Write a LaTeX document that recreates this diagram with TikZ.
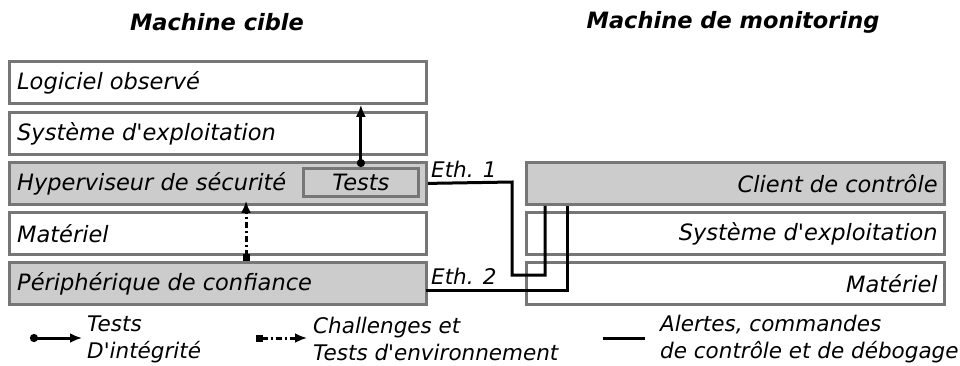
\documentclass[tikz,border=0pt]{standalone}
\usepackage{fontspec}
\newfontfamily\dvs{DejaVu Sans}
\usetikzlibrary{arrows.meta,calc}
\definecolor{boxgray}{RGB}{118,118,118}
\definecolor{fillgray}{RGB}{204,204,204}
\tikzset{
  box/.style={draw=boxgray, line width=2.8pt, anchor=north west, minimum width=417pt, minimum height=42pt, inner sep=0pt},
  shaded/.style={fill=fillgray},
  lbl/.style={font=\fontsize{22.5}{27}\selectfont\dvs\itshape, inner sep=0pt},
  leg/.style={font=\fontsize{21.5}{27}\selectfont\dvs\itshape, inner sep=0pt, align=left, anchor=west},
  ttl/.style={font=\fontsize{22.5}{27}\selectfont\dvs\bfseries\itshape, inner sep=0pt},
  link/.style={line width=3pt, black},
  testarrow/.style={line width=3pt, {Circle[length=8pt,width=8pt]}-{Latex[length=12pt,width=10pt]}},
  chalarrow/.style={line width=3pt, dash pattern=on 6pt off 3pt on 2pt off 3pt, {Square[length=7pt,width=7pt]}-{Latex[length=12pt,width=10pt]}},
}
\begin{document}
\begin{tikzpicture}[x=1pt,y=-1pt]
\useasboundingbox (0,0) rectangle (960,365);
% titles
\node[ttl] (t1) at (217,22) {Machine cible};
\node[ttl] (t2) at (733,22) {Machine de monitoring};
% left stack
\node[box] (lo) at (8,60) {};
\node[box] (so) at (8,111) {};
\node[box,shaded] (hy) at (8,161) {};
\node[box] (ma) at (8,211) {};
\node[box,shaded] (pc) at (8,261) {};
\node[lbl,anchor=west] (lot) at ($(lo.west)+(9,0)$) {Logiciel observé};
\node[lbl,anchor=west] (sot) at ($(so.west)+(9,0)$) {Système d'exploitation};
\node[lbl,anchor=west] (hyt) at ($(hy.west)+(9,0)$) {Hyperviseur de sécurité};
\node[lbl,anchor=west] (mat) at ($(ma.west)+(9,0)$) {Matériel};
\node[lbl,anchor=west] (pct) at ($(pc.west)+(9,0)$) {Périphérique de confiance};
\node[draw=boxgray, line width=2.8pt, fill=fillgray, minimum width=115pt, minimum height=28pt, inner sep=0pt, anchor=north west] (te) at (302,167) {};
\node[lbl] (tet) at (te.center) {Tests};
% right stack
\node[box,shaded,minimum width=418pt] (cc) at (525,161) {};
\node[box,minimum width=418pt] (rs) at (525,211) {};
\node[box,minimum width=418pt] (rm) at (525,261) {};
\node[lbl,anchor=east] (cct) at ($(cc.east)+(-8,0)$) {Client de contrôle};
\node[lbl,anchor=east] (rst) at ($(rs.east)+(-8,0)$) {Système d'exploitation};
\node[lbl,anchor=east] (rmt) at ($(rm.east)+(-8,0)$) {Matériel};
% arrows
\draw[testarrow] (te.north) -- (te.north |- lo.south);
\coordinate (cx) at (246,0);
\draw[chalarrow] (pc.north -| cx) -- ($(hy.south -| cx)+(0,-5)$);
% network links
\coordinate (e1a) at (512,182);
\coordinate (e1b) at (512,275);
\coordinate (e1c) at (545,275);
\draw[link] (hy.east) -- (e1a) -- (e1b) -- (e1c) -- (e1c |- cc.south);
\coordinate (e2a) at (426,290);
\coordinate (e2b) at (567,290);
\draw[link] (e2a) -- (e2b) -- (e2b |- cc.south);
\node[lbl,font=\fontsize{21.5}{27}\selectfont\dvs\itshape,anchor=south west] (eth1) at (431,178) {Eth. 1};
\node[lbl,font=\fontsize{21.5}{27}\selectfont\dvs\itshape,anchor=south west] (eth2) at (431,285) {Eth. 2};
% legend
\coordinate (l1a) at (30,338); \coordinate (l1b) at (82,338);
\draw[testarrow] (l1a) -- (l1b);
\node[leg] (l1t) at (87,339) {Tests\\D'intégrité};
\coordinate (l2a) at (256,338); \coordinate (l2b) at (307,338);
\draw[chalarrow] (l2a) -- (l2b);
\node[leg] (l2t) at (313,339) {Challenges et\\Tests d'environnement};
\coordinate (l3a) at (603,338); \coordinate (l3b) at (645,338);
\draw[link] (l3a) -- (l3b);
\node[leg] (l3t) at (660,339) {Alertes, commandes\\de contrôle et de débogage};
\end{tikzpicture}
\end{document}
